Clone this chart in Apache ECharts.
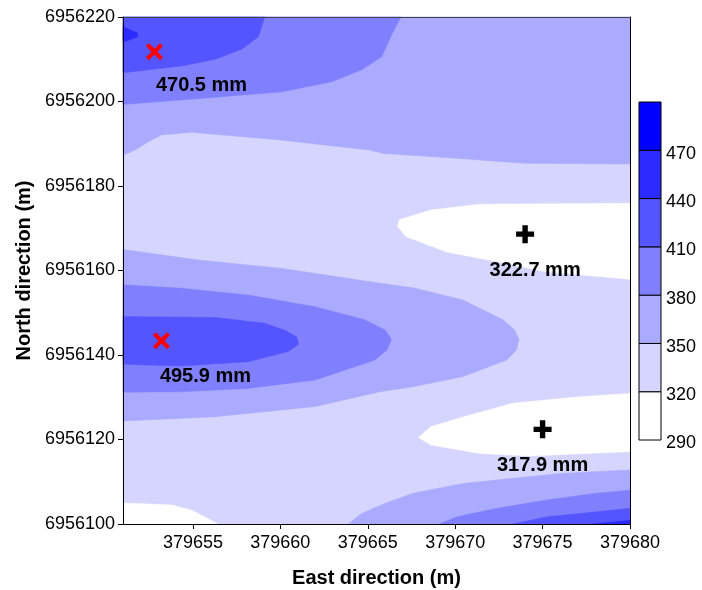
<!DOCTYPE html>
<html>
<head>
<meta charset="utf-8">
<script src="https://cdn.jsdelivr.net/npm/echarts@6/dist/echarts.min.js"></script>
<style>
html,body{margin:0;padding:0;background:#fff;}
#chart{width:702px;height:590px;}
</style>
</head>
<body>
<div id="chart"></div>
<script>
// ---- axis ticks ----
const eastTicks = [379655, 379660, 379665, 379670, 379675, 379680];
const northTicks = [6956100, 6956120, 6956140, 6956160, 6956180, 6956200, 6956220];
const levels = [290, 320, 350, 380, 410, 440, 470, 500];
const levelLabels = [290, 320, 350, 380, 410, 440, 470];

// ---- contour regions (east, north) ----
const domain = [
  [[379651, 6956100], [379680, 6956100], [379680, 6956220], [379651, 6956220]]
];
const below320 = [
  [[379680, 6956175.9], [379671.4, 6956175.7], [379668.6, 6956174.3], [379666.8, 6956172.0], [379666.7, 6956170.4],
   [379667.2, 6956168.0], [379669.5, 6956164.4], [379672.4, 6956162.1], [379675.2, 6956159.7], [379678.7, 6956158.4], [379680, 6956157.9]],
  [[379680, 6956130.9], [379677.1, 6956130.1], [379673.3, 6956128.6], [379670.5, 6956125.4], [379668.6, 6956123.0], [379667.9, 6956120.5],
   [379668.6, 6956118.7], [379671.4, 6956116.7], [379674.3, 6956116.1], [379677.1, 6956116.6], [379680, 6956117.1]],
  [[379651, 6956105.0], [379653.8, 6956104.5], [379654.9, 6956103.3], [379656.45, 6956100], [379651, 6956100]]
];
const above350 = [
  [[379651, 6956220], [379680, 6956220], [379680, 6956185.2], [379673.9, 6956185.4], [379668.9, 6956186.9], [379665.9, 6956187.7],
   [379665.1, 6956188.5], [379660.0, 6956190.9], [379654.9, 6956192.7], [379653.2, 6956192.1], [379652.45, 6956190.5],
   [379651.7, 6956188.5], [379651, 6956187.3]],
  [[379651, 6956165.0], [379655.3, 6956162.5], [379660.1, 6956160.5], [379665.7, 6956157.0], [379667.6, 6956155.9], [379670.45, 6956153.0],
   [379672.75, 6956148.3], [379673.4, 6956145.9], [379673.65, 6956143.6], [379673.5, 6956141.2], [379672.95, 6956138.8],
   [379670.45, 6956134.9], [379667.6, 6956132.5], [379665.7, 6956131.3], [379662.0, 6956127.8], [379656.3, 6956125.4], [379651, 6956124.4]],
  [[379663.9, 6956100], [379664.65, 6956102.5], [379666.0, 6956104.9], [379667.6, 6956107.3], [379670.45, 6956109.6],
   [379673.3, 6956110.8], [379676.2, 6956112.0], [379680, 6956112.8], [379680, 6956100]]
];
const above380 = [
  [[379651, 6956220], [379666.9, 6956220], [379666.4, 6956216.1], [379665.8, 6956210.6], [379664.65, 6956207.5],
   [379662.95, 6956204.7], [379660.1, 6956202.3], [379656.3, 6956201.0], [379651, 6956199.3]],
  [[379651, 6956156.6], [379654.35, 6956155.8], [379658.15, 6956154.2], [379662.0, 6956151.4], [379664.85, 6956148.3],
   [379666.0, 6956145.9], [379666.35, 6956143.7], [379666.1, 6956141.2], [379665.4, 6956138.8], [379662.0, 6956134.1],
   [379658.15, 6956132.1], [379654.35, 6956131.3], [379651, 6956131.2]],
  [[379669.1, 6956100], [379670.1, 6956101.7], [379672.4, 6956103.7], [379675.25, 6956105.7], [379678.1, 6956107.3],
   [379680, 6956108.0], [379680, 6956100]]
];
const above410 = [
  [[379651, 6956220], [379659.1, 6956220], [379658.75, 6956215.3], [379657.8, 6956212.4], [379656.3, 6956210.0],
   [379654.35, 6956208.4], [379651, 6956206.8]],
  [[379651, 6956149.1], [379656.3, 6956148.9], [379659.1, 6956147.5], [379660.3, 6956145.8], [379660.95, 6956144.2],
   [379661.05, 6956142.6], [379660.45, 6956140.8], [379658.15, 6956138.4], [379654.35, 6956137.4], [379651, 6956137.8]],
  [[379673.3, 6956100], [379675.25, 6956101.7], [379678.1, 6956102.9], [379680, 6956103.7], [379680, 6956100]]
];
const above440 = [
  [[379651, 6956217.7], [379651.8, 6956216.3], [379651.85, 6956215.3], [379651, 6956214.0]],
  [[379677.9, 6956100], [379680, 6956100.9], [379680, 6956100]]
];

// ---- marked points (east, north, value) ----
const maxima = [[379652.8, 6956211.8, 470.5], [379653.2, 6956143.4, 495.9]];
const minima = [[379674.0, 6956168.6, 322.7], [379675.0, 6956122.4, 317.9]];

// ---- styles ----
const bandColors = ['#ffffff', '#d5d5ff', '#aaaaff', '#8080ff', '#5555ff', '#2b2bff', '#0000ff'];
const FONT = 'Liberation Sans, Arial, Helvetica, sans-serif';
const maxOffsets = [[47, 34], [44, 36]];
const minOffsets = [[10, 36], [0, 36]];

function polySeries(polys, color, z) {
  return {
    type: 'custom', xAxisIndex: 0, yAxisIndex: 0, z: z, silent: true,
    data: polys.map(p => p[0]),
    encode: { x: 0, y: 1 },
    renderItem: function (params, api) {
      const pts = polys[params.dataIndex].map(pt => api.coord(pt));
      return { type: 'polygon', shape: { points: pts }, style: { fill: color, stroke: color, lineWidth: 0.5 } };
    }
  };
}

const xPath = 'path://M0,3.5 L3.5,0 L10,6.5 L16.5,0 L20,3.5 L13.5,10 L20,16.5 L16.5,20 L10,13.5 L3.5,20 L0,16.5 L6.5,10 Z';
const plusPath = 'path://M7,0 H13 V7 H20 V13 H13 V20 H7 V13 H0 V7 H7 Z';

const labelStyle = { show: true, position: 'inside', color: '#000', fontSize: 20, fontWeight: 'bold', fontFamily: FONT,
  formatter: p => p.value[2].toFixed(1) + ' mm' };

const chart = echarts.init(document.getElementById('chart'), null, { renderer: 'canvas' });
chart.setOption({
  backgroundColor: '#ffffff',
  animation: false,
  grid: [
    { left: 123, top: 17, width: 507, height: 507, containLabel: false, outerBoundsMode: 'none' },
    { left: 639, top: 102, width: 22, height: 338, containLabel: false, outerBoundsMode: 'none' }
  ],
  xAxis: [
    { type: 'value', gridIndex: 0, min: 379651, max: 379680, position: 'bottom', z: 10,
      axisLine: { show: true, onZero: false, lineStyle: { color: '#000', width: 1 } },
      axisTick: { show: true, customValues: eastTicks, length: 5, lineStyle: { color: '#000' } },
      axisLabel: { customValues: eastTicks, formatter: v => String(v), fontSize: 18, color: '#000', fontFamily: FONT, margin: 10 },
      splitLine: { show: false },
      name: 'East direction (m)', nameLocation: 'middle', nameGap: 44,
      nameTextStyle: { fontSize: 20, fontWeight: 'bold', color: '#000', fontFamily: FONT } },
    { type: 'value', gridIndex: 0, min: 379651, max: 379680, position: 'top', z: 10,
      axisLine: { show: true, onZero: false, lineStyle: { color: '#444', width: 1 } },
      axisTick: { show: false }, axisLabel: { show: false }, splitLine: { show: false } },
    { type: 'value', gridIndex: 1, min: 0, max: 1, show: false }
  ],
  yAxis: [
    { type: 'value', gridIndex: 0, min: 6956100, max: 6956220, interval: 20, position: 'left', z: 10,
      axisLine: { show: true, onZero: false, lineStyle: { color: '#000', width: 1 } },
      axisTick: { show: true, customValues: northTicks, length: 5, lineStyle: { color: '#000' } },
      axisLabel: { customValues: northTicks, formatter: v => String(v), fontSize: 18, color: '#000', fontFamily: FONT, margin: 8 },
      splitLine: { show: false },
      name: 'North direction (m)', nameLocation: 'middle', nameGap: 84, nameRotate: 90,
      nameTextStyle: { fontSize: 20, fontWeight: 'bold', color: '#000', fontFamily: FONT } },
    { type: 'value', gridIndex: 0, min: 6956100, max: 6956220, position: 'right', z: 10,
      axisLine: { show: true, onZero: false, lineStyle: { color: '#000', width: 1 } },
      axisTick: { show: false }, axisLabel: { show: false }, splitLine: { show: false } },
    { type: 'value', gridIndex: 1, min: 290, max: 500, position: 'right',
      axisLine: { show: false }, axisTick: { show: false }, splitLine: { show: false },
      axisLabel: { customValues: levelLabels, formatter: v => '{a|' + v + '}', margin: 5,
        rich: { a: { fontSize: 18, color: '#000', fontFamily: FONT, padding: [7, 0, 0, 0] } } } }
  ],
  series: [
    polySeries(domain, bandColors[1], 2),
    polySeries(below320, bandColors[0], 3),
    polySeries(above350, bandColors[2], 4),
    polySeries(above380, bandColors[3], 5),
    polySeries(above410, bandColors[4], 6),
    polySeries(above440, bandColors[5], 7),
    {
      type: 'custom', xAxisIndex: 2, yAxisIndex: 2, z: 5, silent: true,
      data: levels.slice(0, -1).map((lv, i) => [0, lv, levels[i + 1]]),
      renderItem: function (params, api) {
        const p1 = api.coord([0, api.value(1)]);
        const p2 = api.coord([1, api.value(2)]);
        return { type: 'rect', shape: { x: p1[0], y: p2[1], width: p2[0] - p1[0], height: p1[1] - p2[1] },
          style: { fill: bandColors[params.dataIndex], stroke: '#000', lineWidth: 1 } };
      }
    },
    {
      type: 'scatter', xAxisIndex: 0, yAxisIndex: 0, z: 20, silent: true,
      symbol: xPath, symbolSize: 17, itemStyle: { color: '#ff0000', opacity: 1 },
      data: maxima.map((d, i) => ({ value: d, label: Object.assign({}, labelStyle, { offset: maxOffsets[i] }) }))
    },
    {
      type: 'scatter', xAxisIndex: 0, yAxisIndex: 0, z: 20, silent: true,
      symbol: plusPath, symbolSize: 18, itemStyle: { color: '#000000', opacity: 1 },
      data: minima.map((d, i) => ({ value: d, label: Object.assign({}, labelStyle, { offset: minOffsets[i] }) }))
    }
  ]
});
</script>
</body>
</html>
